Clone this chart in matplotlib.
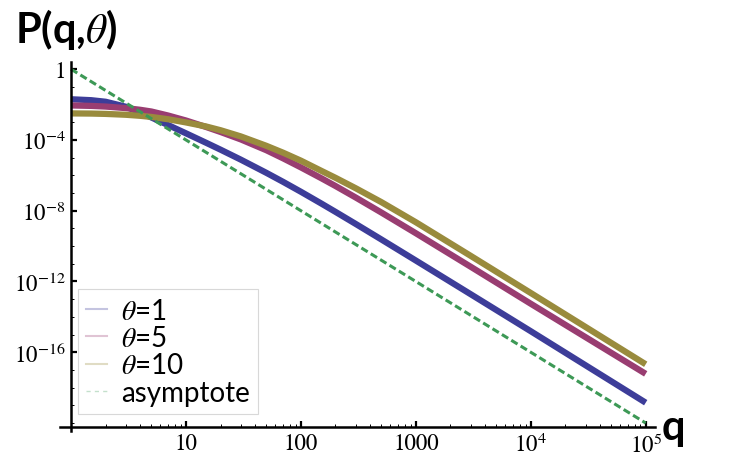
import matplotlib
matplotlib.use("Agg")
import matplotlib.pyplot as plt
from matplotlib.ticker import FixedLocator, NullFormatter
import numpy as np

plt.rcParams['mathtext.fontset'] = 'stix'

# values, stored as log10(P)
q = [1, 1.5, 2, 3, 4, 5, 7, 10, 15, 20, 30, 50, 70, 100, 150, 200, 300, 500,
     1000, 3000, 1e4, 1e5]
logp_theta1 = [-1.70, -1.753, -1.841, -2.123, -2.448, -2.729, -3.16, -3.625,
               -4.162, -4.55, -5.113, -5.857, -6.368, -6.929, -7.588, -8.065,
               -8.748, -9.62, -10.815, -12.719, -14.811, -18.85]
logp_theta5 = [-2.05, -2.076, -2.113, -2.201, -2.295, -2.392, -2.62, -2.90,
               -3.27, -3.55, -3.97, -4.58, -5.04, -5.552, -6.159, -6.603,
               -7.254, -8.098, -9.272, -11.166, -13.258, -17.22]
logp_theta10 = [-2.50, -2.509, -2.528, -2.577, -2.636, -2.70, -2.83, -3.01,
                -3.24, -3.45, -3.80, -4.33, -4.72, -5.17, -5.74, -6.14, -6.73,
                -7.51, -8.65, -10.55, -12.65, -16.68]
q_asym = [1, 1e5]
logp_asym = [0, -20]

xticks = [10, 100, 1000, 1e4, 1e5]
xticklabels = ['10', '100', '1000', '$10^4$', '$10^5$']
yticks = [1, 1e-4, 1e-8, 1e-12, 1e-16]
yticklabels = ['1', '$10^{-4}$', '$10^{-8}$', '$10^{-12}$', '$10^{-16}$']

c1 = '#3d3d99'
c5 = '#993d71'
c10 = '#998b3d'
cas = '#3d9956'

fig = plt.figure(figsize=(7.47, 4.64), dpi=100)
ax = fig.add_axes([0.0797, 0.069, 0.797, 0.795])

ax.plot(q, 10.0 ** np.array(logp_theta1), color=c1, lw=4.5,
        solid_capstyle='butt')
ax.plot(q, 10.0 ** np.array(logp_theta5), color=c5, lw=4.5,
        solid_capstyle='butt')
ax.plot(q, 10.0 ** np.array(logp_theta10), color=c10, lw=4.5,
        solid_capstyle='butt')
ax.plot(q_asym, 10.0 ** np.array(logp_asym, dtype=float), color=cas, lw=2.2,
        dashes=(2.4, 1.2))

ax.set_xscale('log')
ax.set_yscale('log')
ax.set_xlim(10**-0.1, 10**5.08)
ax.set_ylim(10**-20.45, 10**0.4)

for s in ['top', 'right']:
    ax.spines[s].set_visible(False)
ax.spines['left'].set_position(('data', 1))
ax.spines['bottom'].set_position(('data', 10**-20.25))
ax.spines['left'].set_linewidth(1.8)
ax.spines['bottom'].set_linewidth(1.8)

ax.set_xticks(xticks)
ax.set_xticklabels(xticklabels)
ax.xaxis.set_minor_locator(FixedLocator(
    [m * 10**e for e in range(0, 5) for m in range(2, 10)]))
ax.xaxis.set_minor_formatter(NullFormatter())
ax.set_yticks(yticks)
ax.set_yticklabels(yticklabels)
ax.yaxis.set_minor_locator(FixedLocator([10.0**e for e in range(-20, 1)]))
ax.yaxis.set_minor_formatter(NullFormatter())

ax.tick_params(which='major', direction='in', length=4, width=1.6,
               labelsize=16.5, pad=4)
ax.tick_params(which='minor', direction='in', length=2, width=0.7)
for lab in ax.get_xticklabels() + ax.get_yticklabels():
    lab.set_fontfamily('STIXGeneral')

handles = [
    plt.Line2D([], [], color=c1, lw=1.5, alpha=0.3),
    plt.Line2D([], [], color=c5, lw=1.5, alpha=0.3),
    plt.Line2D([], [], color=c10, lw=1.5, alpha=0.3),
    plt.Line2D([], [], color=cas, lw=1.0, alpha=0.3, dashes=(3, 3)),
]
labels = ['$\\theta$=1', '$\\theta$=5', '$\\theta$=10', 'asymptote']
leg = fig.legend(handles, labels, loc='lower left',
                 bbox_to_anchor=(0.1044, 0.1056), borderaxespad=0,
                 prop={'family': 'Lato', 'size': 20}, handlelength=0.75,
                 handletextpad=0.5, labelspacing=0.05, borderpad=0.3,
                 fancybox=False, framealpha=1)
leg.get_frame().set_edgecolor('#d8d8d8')
leg.get_frame().set_linewidth(0.8)

fig.text(0.02, 0.907, 'P(q,$\\theta$)', fontsize=30, fontweight='bold',
         family='Lato', va='baseline')
fig.text(0.886, 0.052, 'q', fontsize=30, fontweight='bold',
         family='Lato', va='baseline')

fig.savefig('out.png', dpi=100)
